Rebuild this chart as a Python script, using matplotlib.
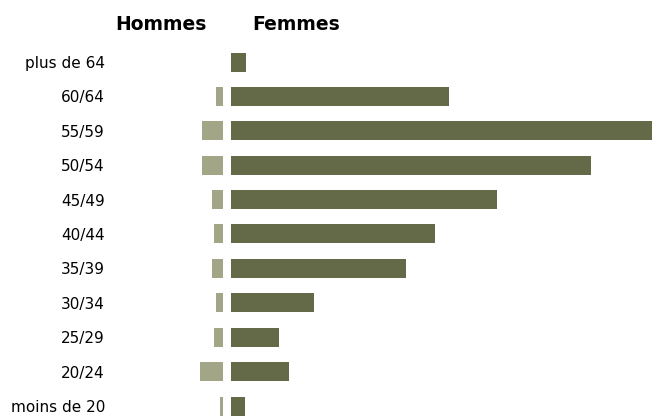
import matplotlib.pyplot as plt
import numpy as np

ages = ['plus de 64', '60/64', '55/59', '50/54', '45/49', '40/44',
        '35/39', '30/34', '25/29', '20/24', 'moins de 20']
hommes = [0, 7, 21, 21, 11, 9, 11, 7, 9, 23, 3]
femmes = [15, 218, 425, 360, 266, 204, 175, 83, 48, 58, 14]

W, H = 652, 416
c_h = '#a2a586'
c_f = '#646a47'

fig = plt.figure(figsize=(W / 100, H / 100), dpi=100)

y = np.arange(len(ages))
step = 34.4
ylim = (10 + (H - 406) / step, -62 / step)
bh = 19 / step

# hommes, drawn leftwards
ax_h = fig.add_axes([105 / W, 0, (223 - 105) / W, 1])
ax_h.barh(y, hommes, height=bh, color=c_h)
ax_h.set_xlim(223 - 105, 0)
ax_h.set_ylim(*ylim)
ax_h.set_yticks(y)
ax_h.set_yticklabels(ages, fontsize=11)
ax_h.tick_params(axis='y', length=0, pad=0)
ax_h.set_xticks([])

# femmes, drawn rightwards
ax_f = fig.add_axes([231 / W, 0, (W - 231) / W, 1])
ax_f.barh(y, femmes, height=bh, color=c_f)
ax_f.set_xlim(0, W - 231)
ax_f.set_ylim(*ylim)
ax_f.set_xticks([])
ax_f.set_yticks([])

for ax in (ax_h, ax_f):
    for s in ax.spines.values():
        s.set_visible(False)
    ax.patch.set_visible(False)

fig.text(115 / W, 1 - 24 / H, 'Hommes', fontsize=13.5, fontweight='bold',
         ha='left', va='center')
fig.text(252 / W, 1 - 24 / H, 'Femmes', fontsize=13.5, fontweight='bold',
         ha='left', va='center')

fig.savefig('out.png', dpi=100)
